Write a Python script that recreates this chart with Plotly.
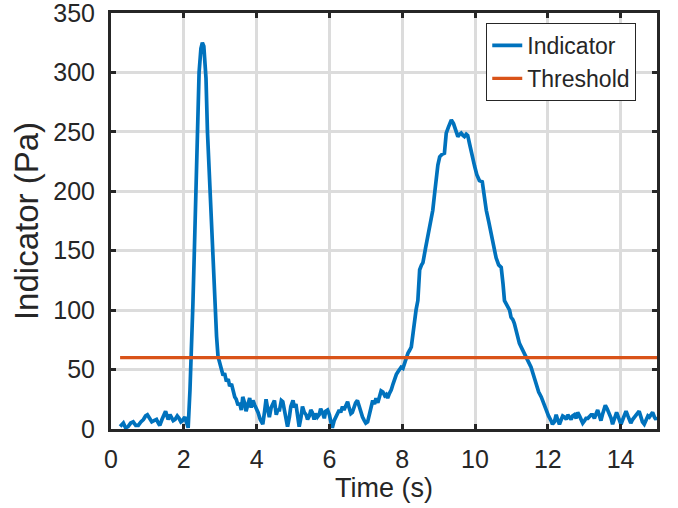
import plotly.graph_objects as go

time_s = [0.25, 0.34, 0.40, 0.47, 0.54, 0.61, 0.68, 0.75, 0.82, 0.89, 0.95, 1.0, 1.06, 1.12, 1.18, 1.25, 1.30, 1.34, 1.40, 1.45,
          1.5, 1.54, 1.57, 1.62, 1.66, 1.71, 1.76, 1.82, 1.87, 1.92, 1.96, 2.0, 2.03, 2.07, 2.12, 2.17, 2.21, 2.25, 2.29, 2.33,
          2.37, 2.42, 2.47, 2.51, 2.55, 2.58, 2.61, 2.65, 2.72, 2.78, 2.85, 2.9, 2.94, 2.99, 3.04, 3.08, 3.12, 3.17, 3.22, 3.26,
          3.31, 3.36, 3.40, 3.44, 3.49, 3.53, 3.58, 3.62, 3.67, 3.71, 3.76, 3.81, 3.85, 3.9, 3.95, 4.0, 4.04, 4.1, 4.17, 4.22,
          4.26, 4.31, 4.35, 4.40, 4.45, 4.49, 4.54, 4.58, 4.63, 4.68, 4.72, 4.78, 4.85, 4.9, 4.94, 5.0, 5.04, 5.08, 5.13, 5.17,
          5.22, 5.26, 5.31, 5.36, 5.4, 5.45, 5.49, 5.53, 5.58, 5.62, 5.67, 5.72, 5.76, 5.81, 5.86, 5.90, 5.95, 6.0, 6.04, 6.08,
          6.13, 6.17, 6.22, 6.27, 6.31, 6.36, 6.4, 6.45, 6.5, 6.54, 6.59, 6.63, 6.68, 6.72, 6.77, 6.82, 6.86, 6.91, 6.96, 7.0,
          7.05, 7.1, 7.14, 7.19, 7.24, 7.28, 7.33, 7.38, 7.42, 7.47, 7.52, 7.56, 7.6, 7.65, 7.7, 7.75, 7.79, 7.84, 7.88, 7.93,
          7.97, 8.02, 8.06, 8.11, 8.16, 8.2, 8.25, 8.3, 8.34, 8.38, 8.43, 8.48, 8.53, 8.57, 8.64, 8.71, 8.77, 8.84, 8.89, 8.94,
          8.98, 9.03, 9.09, 9.16, 9.21, 9.27, 9.32, 9.35, 9.41, 9.47, 9.53, 9.58, 9.62, 9.67, 9.71, 9.76, 9.8, 9.85, 9.9, 9.95,
          9.99, 10.05, 10.12, 10.2, 10.25, 10.31, 10.38, 10.44, 10.5, 10.58, 10.65, 10.72, 10.77, 10.81, 10.88, 10.95, 10.99, 11.04, 11.08, 11.15,
          11.22, 11.3, 11.4, 11.47, 11.54, 11.61, 11.68, 11.75, 11.82, 11.88, 11.95, 12.02, 12.09, 12.13, 12.18, 12.23, 12.28, 12.32, 12.37, 12.41,
          12.46, 12.51, 12.55, 12.6, 12.64, 12.68, 12.73, 12.78, 12.82, 12.87, 12.91, 12.96, 13.01, 13.05, 13.1, 13.15, 13.19, 13.23, 13.28, 13.33,
          13.37, 13.42, 13.46, 13.5, 13.54, 13.58, 13.63, 13.69, 13.74, 13.78, 13.83, 13.89, 13.95, 14.01, 14.06, 14.1, 14.15, 14.2, 14.24, 14.28,
          14.33, 14.38, 14.42, 14.47, 14.51, 14.56, 14.6, 14.65, 14.7, 14.75, 14.79, 14.84, 14.88, 14.93, 14.97, 15.0]

indicator_pa = [2, 5, 1, 2, 5, 6, 3, 3, 6, 8, 11, 12, 9, 6, 7, 8, 5, 3, 8, 12,
                15, 11, 8, 12, 10, 7, 8, 11, 9, 6, 7, 9, 10, 6, 1, 33, 61, 105, 150, 200,
                250, 300, 320, 325, 322, 312, 295, 250, 200, 150, 100, 78, 61, 55, 50, 45, 47, 40, 42, 36,
                38, 30, 27, 25, 20, 22, 16, 27, 22, 15, 20, 26, 18, 24, 20, 17, 14, 8, 4, 15,
                25, 16, 10, 18, 22, 24, 12, 16, 16, 24, 23, 12, 2, 10, 19, 24, 18, 21, 12, 2,
                10, 19, 14, 12, 8, 11, 16, 14, 8, 13, 10, 12, 17, 14, 9, 15, 16, 12, 6, 1,
                7, 10, 12, 16, 14, 19, 16, 20, 23, 18, 13, 14, 20, 22, 24, 18, 13, 10, 7, 5,
                6, 12, 18, 24, 21, 26, 22, 28, 32, 31, 28, 29, 26, 30, 33, 38, 43, 46, 48, 50,
                52, 51, 55, 61, 64, 66, 69, 81, 92, 100, 108, 134, 138, 140, 152, 162, 172, 184, 198, 212,
                222, 229, 231, 232, 249, 254, 257, 260, 257, 250, 246, 248, 249, 247, 246, 248, 247, 240, 232, 226,
                221, 214, 209, 208, 196, 184, 174, 165, 155, 144, 138, 136, 122, 108, 104, 100, 94, 92, 89, 80,
                72, 67, 61, 56, 52, 45, 37, 31, 27, 22, 16, 11, 7, 4, 6, 12, 7, 4, 8, 11,
                10, 8, 12, 9, 8, 11, 12, 9, 14, 11, 8, 5, 7, 9, 9, 11, 12, 12, 9, 13,
                16, 11, 7, 12, 17, 20, 17, 13, 9, 4, 9, 14, 9, 4, 8, 12, 15, 11, 7, 5,
                8, 10, 11, 13, 15, 10, 6, 4, 7, 11, 10, 12, 14, 10, 8, 10]

threshold_time = [0.25, 15.0]
threshold_pa = [60, 60]

x_ticks = [0, 2, 4, 6, 8, 10, 12, 14]
y_ticks = [0, 50, 100, 150, 200, 250, 300, 350]

FONT = "Liberation Sans, Arial, Helvetica, sans-serif"
INK = "#262626"

fig = go.Figure()
fig.add_trace(go.Scatter(x=time_s, y=indicator_pa, mode="lines", name="Indicator",
                         line=dict(color="#0072BD", width=3.7)))
fig.add_trace(go.Scatter(x=threshold_time, y=threshold_pa, mode="lines", name="Threshold",
                         line=dict(color="#D95319", width=3.2)))

axis_common = dict(
    showline=True, linecolor=INK, linewidth=3, mirror="ticks",
    ticks="inside", ticklen=5, tickwidth=3, tickcolor=INK,
    showgrid=True, gridcolor="#dcdcdc", gridwidth=2.5,
    zeroline=False, tickfont=dict(family=FONT, size=25, color=INK),
    automargin=False, ticklabeloverflow="allow",
)

fig.update_xaxes(range=[0, 15], tickvals=x_ticks, ticklabelstandoff=6,
                 title=dict(text="Time (s)", font=dict(family=FONT, size=27, color=INK), standoff=6),
                 **axis_common)
fig.update_yaxes(range=[0, 350], tickvals=y_ticks, ticklabelstandoff=8,
                 title=dict(text="Indicator (Pa)", font=dict(family=FONT, size=33, color=INK), standoff=5),
                 **axis_common)

fig.update_layout(
    width=678, height=508,
    margin=dict(l=111, r=21, t=13, b=79),
    paper_bgcolor="white", plot_bgcolor="white",
    showlegend=True,
    legend=dict(x=0.962, y=0.976, xanchor="right", yanchor="top",
                bgcolor="white", bordercolor=INK, borderwidth=1,
                font=dict(family=FONT, size=23, color=INK),
                tracegroupgap=0, itemwidth=30),
)

fig.write_html("out.html", config={"displayModeBar": False},
               post_script="document.body.style.margin='0';")
